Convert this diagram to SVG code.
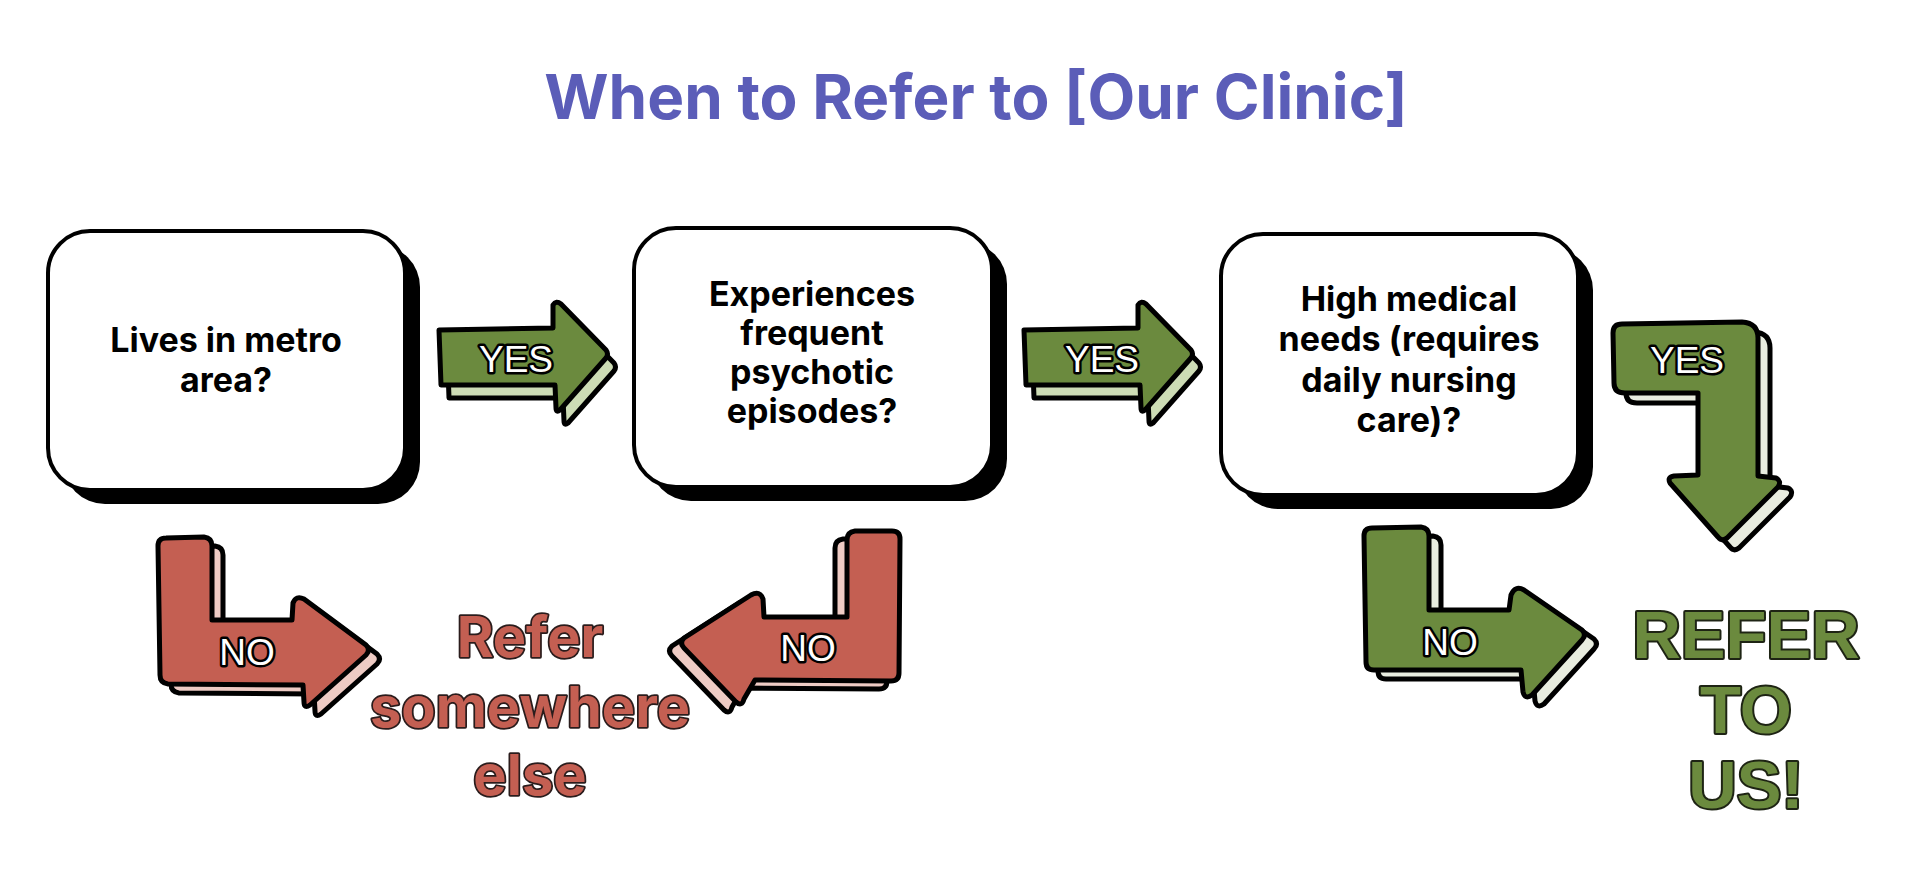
<svg xmlns="http://www.w3.org/2000/svg" width="1920" height="884" viewBox="0 0 1920 884">
<style>
.title{font-family:Inter,"Noto Sans",sans-serif;font-weight:700;font-size:62px;fill:#5b5db8;text-anchor:middle}
.box{fill:#fff;stroke:#000;stroke-width:4}
.shadow{fill:#000}
.q{font-family:Inter,"Noto Sans",sans-serif;font-weight:700;font-size:34px;fill:#000;text-anchor:middle}
.ar{stroke:#000;stroke-width:5;stroke-linejoin:round;stroke-linecap:round}
.g{fill:#6b8a3e}
.gs{fill:#cddcb5}
.gp{fill:#e8ecdf}
.r{fill:#c45f52}
.rs{fill:#eecbc4}
.lbl{font-family:"Liberation Sans",Arial,sans-serif;font-size:37px;fill:#fff;stroke:#000;stroke-width:5;paint-order:stroke;text-anchor:middle;stroke-linejoin:round}
.else{font-family:Inter,"Noto Sans",sans-serif;font-weight:700;font-size:56px;fill:#c45f52;stroke:#2a1c1c;stroke-width:3.5;paint-order:stroke;text-anchor:middle;stroke-linejoin:round}
.us{font-family:"Liberation Sans",Arial,sans-serif;font-weight:700;font-size:67px;fill:#6b8a3e;stroke:#1e2414;stroke-width:4;paint-order:stroke;text-anchor:middle;stroke-linejoin:round}
</style>
<rect width="1920" height="884" fill="#fff"/>
<text class="title" x="976" y="119">When to Refer to [Our Clinic]</text>

<g id="node-metro">
<rect class="shadow" x="63" y="245" width="357" height="259" rx="42"/>
<rect class="box" x="48" y="231" width="357" height="259" rx="42"/>
<text class="q" x="226" y="352">Lives in metro</text>
<text class="q" x="226" y="392">area?</text>
</g>

<g id="node-psychotic">
<rect class="shadow" x="649" y="242" width="358" height="259" rx="42"/>
<rect class="box" x="634" y="228" width="358" height="259" rx="42"/>
<text class="q" x="812" y="306">Experiences</text>
<text class="q" x="812" y="345">frequent</text>
<text class="q" x="812" y="384">psychotic</text>
<text class="q" x="812" y="423">episodes?</text>
</g>

<g id="node-medical">
<rect class="shadow" x="1236" y="248" width="357" height="261" rx="42"/>
<rect class="box" x="1221" y="234" width="357" height="261" rx="42"/>
<text class="q" x="1409" y="311">High medical</text>
<text class="q" x="1409" y="351">needs (requires</text>
<text class="q" x="1409" y="392">daily nursing</text>
<text class="q" x="1409" y="432">care)?</text>
</g>

<g id="refer-elsewhere">
<text class="else" x="530" y="657">Refer</text>
<text class="else" x="530" y="727">somewhere</text>
<text class="else" x="530" y="795">else</text>
</g>

<g id="refer-us">
<text class="us" x="1746" y="658">REFER</text>
<text class="us" x="1746" y="733">TO</text>
<text class="us" x="1746" y="808">US!</text>
</g>

<g id="connectors">
<g id="yes-1">
<path class="ar gs" transform="translate(8,13)" d="M439,330 L553,328 L553,305 Q556,300 561,304 L606,350 Q609,354 606,358 L560,410 Q556,413 556,408 L555,385 L441,385 Z"/>
<path class="ar g" d="M439,330 L553,328 L553,305 Q556,300 561,304 L606,350 Q609,354 606,358 L560,410 Q556,413 556,408 L555,385 L441,385 Z"/>
<text class="lbl" x="516" y="372">YES</text>
</g>
<g id="yes-2">
<path class="ar gs" transform="translate(593,13)" d="M439,330 L553,328 L553,305 Q556,300 561,304 L606,350 Q609,354 606,358 L560,410 Q556,413 556,408 L555,385 L441,385 Z"/>
<path class="ar g" transform="translate(585,0)" d="M439,330 L553,328 L553,305 Q556,300 561,304 L606,350 Q609,354 606,358 L560,410 Q556,413 556,408 L555,385 L441,385 Z"/>
<text class="lbl" x="1102" y="372">YES</text>
</g>
<g id="yes-3">
<path class="ar gp" transform="translate(12,10)" d="M1622,324 L1742,322 Q1758,323 1758,338 L1758,476 L1776,478 Q1782,481 1778,487 L1727,538 Q1722,542 1718,537 L1670,483 Q1667,477 1674,476 L1698,475 L1698,393 L1625,393 Q1614,393 1614,383 L1613,333 Q1613,324 1622,324 Z"/>
<path class="ar g" d="M1622,324 L1742,322 Q1758,323 1758,338 L1758,476 L1776,478 Q1782,481 1778,487 L1727,538 Q1722,542 1718,537 L1670,483 Q1667,477 1674,476 L1698,475 L1698,393 L1625,393 Q1614,393 1614,383 L1613,333 Q1613,324 1622,324 Z"/>
<text class="lbl" x="1687" y="373">YES</text>
</g>
<g id="no-1">
<path class="ar rs" transform="translate(11,9)" d="M166,538 L204,537 Q212,538 212,546 L212,620 L292,620 L293,603 Q296,595 304,599 L366,645 Q371,650 366,655 L310,705 Q304,709 304,702 L303,685 L168,684 Q160,683 160,675 L158,546 Q158,538 166,538 Z"/>
<path class="ar r" d="M166,538 L204,537 Q212,538 212,546 L212,620 L292,620 L293,603 Q296,595 304,599 L366,645 Q371,650 366,655 L310,705 Q304,709 304,702 L303,685 L168,684 Q160,683 160,675 L158,546 Q158,538 166,538 Z"/>
<text class="lbl" x="247" y="665">NO</text>
</g>
<g id="no-2">
<path class="ar rs" transform="translate(-12,8)" d="M892,531 L855,531 Q847,532 847,540 L847,617 L764,617 L763,599 Q760,590 751,595 L684,638 Q679,643 684,648 L736,702 Q742,707 744,699 L755,680 L891,681 Q899,681 899,673 L900,539 Q900,531 892,531 Z"/>
<path class="ar r" d="M892,531 L855,531 Q847,532 847,540 L847,617 L764,617 L763,599 Q760,590 751,595 L684,638 Q679,643 684,648 L736,702 Q742,707 744,699 L755,680 L891,681 Q899,681 899,673 L900,539 Q900,531 892,531 Z"/>
<text class="lbl" x="808" y="661">NO</text>
</g>
<g id="no-3">
<path class="ar gp" transform="translate(12,9)" d="M1372,528 L1421,527 Q1429,528 1429,536 L1429,610 L1509,610 L1511,595 Q1515,585 1524,590 L1582,630 Q1587,635 1582,640 L1532,695 Q1525,700 1523,692 L1521,670 L1374,670 Q1366,670 1366,662 L1364,536 Q1364,528 1372,528 Z"/>
<path class="ar g" d="M1372,528 L1421,527 Q1429,528 1429,536 L1429,610 L1509,610 L1511,595 Q1515,585 1524,590 L1582,630 Q1587,635 1582,640 L1532,695 Q1525,700 1523,692 L1521,670 L1374,670 Q1366,670 1366,662 L1364,536 Q1364,528 1372,528 Z"/>
<text class="lbl" x="1450" y="655">NO</text>
</g>
</g>
</svg>
